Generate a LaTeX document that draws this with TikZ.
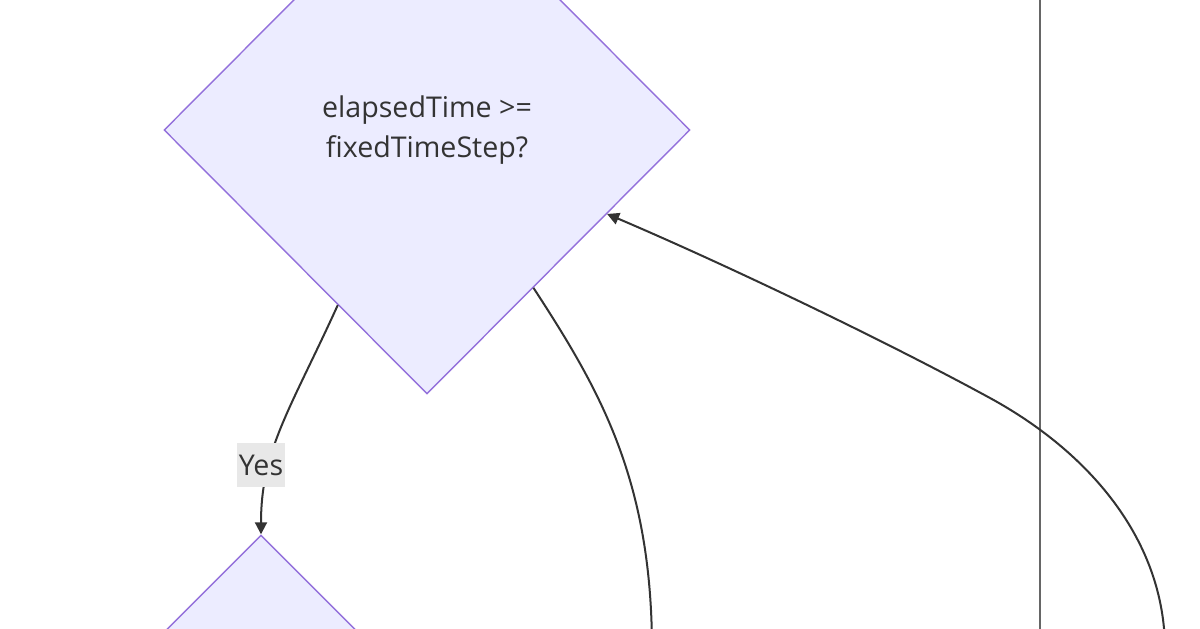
\documentclass[tikz,border=0pt]{standalone}
\usepackage{fontspec}
\setmainfont{Open Sans}
\usepackage{tikz}
\usetikzlibrary{shapes.geometric, arrows.meta}
\definecolor{nodefill}{HTML}{ECECFF}
\definecolor{nodeline}{HTML}{9370DB}
\definecolor{edgeline}{HTML}{333333}
\definecolor{lblfill}{HTML}{E8E8E8}

\begin{document}
\begin{tikzpicture}[x=0.5pt, y=-0.5pt,
        decision/.style={diamond, aspect=1, draw=nodeline, fill=nodefill, line width=0.7pt,
            inner sep=0pt, align=center, text=edgeline, font=\fontsize{14.3}{20}\selectfont},
        edge/.style={draw=edgeline, line width=1pt},
        arrowed/.style={edge, -{Triangle[length=6pt, width=6pt]}},
        edgelabel/.style={fill=lblfill, inner xsep=1pt, inner ysep=0pt, minimum height=22pt,
            text=edgeline, font=\fontsize{14.3}{16}\selectfont}]
                    \useasboundingbox (0, 0) rectangle (1200, 628);
                    \clip (0, 0) rectangle (1200, 628);
                    \fill[white] (0, 0) rectangle (1200, 628);

                    % decision nodes
                    \node[decision, minimum width=263pt, minimum height=264pt] (check) at (427, 130)
                        {elapsedTime >=\\fixedTimeStep?};
                    \node[decision, minimum width=200pt, minimum height=200pt] (update) at (261, 735) {};

                    % ends that leave the picture
                    \coordinate (laneTop) at (1040, -20);
                    \coordinate (laneBottom) at (1040, 650);
                    \coordinate (noEnd) at (652, 650);
                    \coordinate (loopStart) at (1165, 650);

                    \draw[draw=edgeline!75, line width=1pt]
                        (laneTop) -- (laneBottom)
                    ;
                    \draw[arrowed]
                        (check.243) .. controls (290, 410) and (261, 450) .. (update.north)
                    ;
                    \draw[edge]
                        (check.304) .. controls (600, 390) and (652, 480) .. (noEnd)
                    ;
                    \draw[arrowed]
                        (loopStart) .. controls (1165, 540) and (1089, 452) .. (990, 398)
                        .. controls (880, 338) and (720, 262) .. (check.335)
                    ;
                    \node[edgelabel] (yes) at (261, 465) {Yes};
\end{tikzpicture}
\end{document}
